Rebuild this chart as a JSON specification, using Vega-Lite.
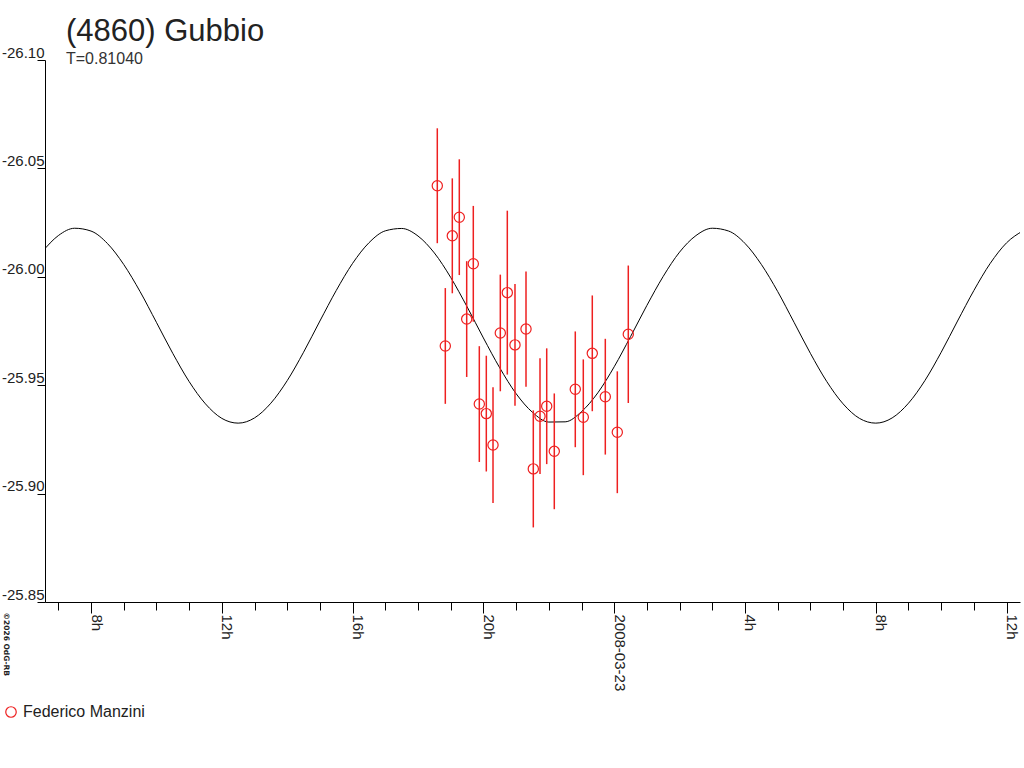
{
  "$schema": "https://vega.github.io/schema/vega-lite/v6.json",
  "width": 975,
  "height": 542,
  "autosize": "none",
  "padding": {"left": 45, "top": 60, "right": 4, "bottom": 166},
  "title": {
    "text": "(4860) Gubbio",
    "subtitle": "T=0.81040",
    "anchor": "start",
    "frame": "group",
    "dx": 21,
    "offset": -23,
    "font": "Liberation Sans",
    "fontSize": 31,
    "fontWeight": "normal",
    "color": "#222",
    "subtitleFont": "Liberation Sans",
    "subtitleFontSize": 16,
    "subtitleColor": "#333",
    "subtitlePadding": 3
  },
  "datasets": {
    "model": [
      {"hour": 6.5, "mag": -26.0114},
      {"hour": 7.0, "mag": -26.0190},
      {"hour": 7.5, "mag": -26.0224},
      {"hour": 8.0, "mag": -26.0211},
      {"hour": 8.5, "mag": -26.0154},
      {"hour": 9.0, "mag": -26.0057},
      {"hour": 9.5, "mag": -25.9932},
      {"hour": 10.0, "mag": -25.9790},
      {"hour": 10.5, "mag": -25.9647},
      {"hour": 11.0, "mag": -25.9517},
      {"hour": 11.5, "mag": -25.9414},
      {"hour": 12.0, "mag": -25.9347},
      {"hour": 12.5, "mag": -25.9325},
      {"hour": 13.0, "mag": -25.9349},
      {"hour": 13.5, "mag": -25.9417},
      {"hour": 14.0, "mag": -25.9521},
      {"hour": 14.5, "mag": -25.9652},
      {"hour": 15.0, "mag": -25.9796},
      {"hour": 15.5, "mag": -25.9937},
      {"hour": 16.0, "mag": -26.0062},
      {"hour": 16.5, "mag": -26.0157},
      {"hour": 17.0, "mag": -26.0212},
      {"hour": 17.5, "mag": -26.0223},
      {"hour": 18.0, "mag": -26.0188},
      {"hour": 18.5, "mag": -26.0110},
      {"hour": 19.0, "mag": -25.9997},
      {"hour": 19.5, "mag": -25.9862},
      {"hour": 20.0, "mag": -25.9718},
      {"hour": 20.5, "mag": -25.9580},
      {"hour": 21.0, "mag": -25.9461},
      {"hour": 21.5, "mag": -25.9375},
      {"hour": 22.0, "mag": -25.9330},
      {"hour": 22.5, "mag": -25.9331},
      {"hour": 23.0, "mag": -25.9378},
      {"hour": 23.5, "mag": -25.9465},
      {"hour": 24.0, "mag": -25.9585},
      {"hour": 24.5, "mag": -25.9724},
      {"hour": 25.0, "mag": -25.9868},
      {"hour": 25.5, "mag": -26.0002},
      {"hour": 26.0, "mag": -26.0114},
      {"hour": 26.5, "mag": -26.0190},
      {"hour": 27.0, "mag": -26.0224},
      {"hour": 27.5, "mag": -26.0211},
      {"hour": 28.0, "mag": -26.0154},
      {"hour": 28.5, "mag": -26.0057},
      {"hour": 29.0, "mag": -25.9932},
      {"hour": 29.5, "mag": -25.9790},
      {"hour": 30.0, "mag": -25.9647},
      {"hour": 30.5, "mag": -25.9517},
      {"hour": 31.0, "mag": -25.9414},
      {"hour": 31.5, "mag": -25.9347},
      {"hour": 32.0, "mag": -25.9325},
      {"hour": 32.5, "mag": -25.9349},
      {"hour": 33.0, "mag": -25.9417},
      {"hour": 33.5, "mag": -25.9521},
      {"hour": 34.0, "mag": -25.9652},
      {"hour": 34.5, "mag": -25.9796},
      {"hour": 35.0, "mag": -25.9937},
      {"hour": 35.5, "mag": -26.0062},
      {"hour": 36.0, "mag": -26.0157},
      {"hour": 36.5, "mag": -26.0212}
    ],
    "obs": [
      {"hour": 18.590, "mag": -26.0420, "magLo": -26.0685, "magHi": -26.0155, "observer": "Federico Manzini"},
      {"hour": 18.835, "mag": -25.9681, "magLo": -25.9948, "magHi": -25.9414, "observer": "Federico Manzini"},
      {"hour": 19.049, "mag": -26.0189, "magLo": -26.0454, "magHi": -25.9924, "observer": "Federico Manzini"},
      {"hour": 19.263, "mag": -26.0275, "magLo": -26.0542, "magHi": -26.0008, "observer": "Federico Manzini"},
      {"hour": 19.489, "mag": -25.9805, "magLo": -26.0072, "magHi": -25.9538, "observer": "Federico Manzini"},
      {"hour": 19.691, "mag": -26.0060, "magLo": -26.0327, "magHi": -25.9793, "observer": "Federico Manzini"},
      {"hour": 19.875, "mag": -25.9413, "magLo": -25.9680, "magHi": -25.9146, "observer": "Federico Manzini"},
      {"hour": 20.089, "mag": -25.9369, "magLo": -25.9636, "magHi": -25.9102, "observer": "Federico Manzini"},
      {"hour": 20.294, "mag": -25.9224, "magLo": -25.9491, "magHi": -25.8957, "observer": "Federico Manzini"},
      {"hour": 20.517, "mag": -25.9741, "magLo": -26.0010, "magHi": -25.9472, "observer": "Federico Manzini"},
      {"hour": 20.731, "mag": -25.9927, "magLo": -26.0305, "magHi": -25.9549, "observer": "Federico Manzini"},
      {"hour": 20.966, "mag": -25.9686, "magLo": -25.9967, "magHi": -25.9405, "observer": "Federico Manzini"},
      {"hour": 21.303, "mag": -25.9759, "magLo": -26.0025, "magHi": -25.9493, "observer": "Federico Manzini"},
      {"hour": 21.526, "mag": -25.9114, "magLo": -25.9384, "magHi": -25.8844, "observer": "Federico Manzini"},
      {"hour": 21.731, "mag": -25.9357, "magLo": -25.9624, "magHi": -25.9090, "observer": "Federico Manzini"},
      {"hour": 21.936, "mag": -25.9403, "magLo": -25.9670, "magHi": -25.9136, "observer": "Federico Manzini"},
      {"hour": 22.168, "mag": -25.9195, "magLo": -25.9462, "magHi": -25.8928, "observer": "Federico Manzini"},
      {"hour": 22.810, "mag": -25.9481, "magLo": -25.9748, "magHi": -25.9214, "observer": "Federico Manzini"},
      {"hour": 23.055, "mag": -25.9352, "magLo": -25.9619, "magHi": -25.9085, "observer": "Federico Manzini"},
      {"hour": 23.330, "mag": -25.9647, "magLo": -25.9914, "magHi": -25.9380, "observer": "Federico Manzini"},
      {"hour": 23.728, "mag": -25.9447, "magLo": -25.9714, "magHi": -25.9180, "observer": "Federico Manzini"},
      {"hour": 24.095, "mag": -25.9283, "magLo": -25.9564, "magHi": -25.9002, "observer": "Federico Manzini"},
      {"hour": 24.431, "mag": -25.9735, "magLo": -26.0052, "magHi": -25.9418, "observer": "Federico Manzini"}
    ]
  },
  "layer": [
    {
      "data": {"name": "model"},
      "mark": {"type": "line", "color": "#000", "strokeWidth": 1, "clip": true, "interpolate": "monotone"},
      "encoding": {
        "x": {
          "field": "hour",
          "type": "quantitative",
          "scale": {"domain": [6.593, 36.41], "nice": false, "zero": false},
          "axis": {
            "title": null,
            "values": [7, 8, 9, 10, 11, 12, 13, 14, 15, 16, 17, 18, 19, 20, 21, 22, 23, 24, 25, 26, 27, 28, 29, 30, 31, 32, 33, 34, 35, 36],
            "tickCount": 200,
            "labelExpr": "datum.value % 4 == 0 ? (datum.value == 24 ? '2008-03-23' : (datum.value % 24) + 'h') : ''",
            "labelAngle": 90,
            "labelAlign": "left",
            "labelBaseline": "alphabetic",
            "labelOverlap": false,
            "labelFlush": false,
            "labelPadding": 1,
            "tickSize": {"condition": {"test": "datum.value % 4 == 0", "value": 11}, "value": 8}
          }
        },
        "y": {
          "field": "mag",
          "type": "quantitative",
          "scale": {"domain": [-26.10, -25.85], "reverse": true, "zero": false, "nice": false},
          "axis": {
            "values": [-26.10, -26.05, -26.00, -25.95, -25.90, -25.85],
            "tickCount": 50,
            "labelExpr": "replace(format(datum.value, '.2f'), '\u2212', '-')",
            "tickSize": 8,
            "labelAlign": "right",
            "labelBaseline": "bottom",
            "labelPadding": -7,
            "title": "©2026 OdG-RB",
            "titleAngle": 90,
            "titleX": -44,
            "titleY": 552,
            "titleAlign": "left",
            "titleBaseline": "bottom",
            "titleFont": "DejaVu Sans",
            "titleFontSize": 7.5,
            "titleFontWeight": "bold",
            "titleColor": "#222"
          }
        }
      }
    },
    {
      "data": {"name": "obs"},
      "mark": {"type": "rule", "color": "#ee2020", "strokeWidth": 1.5},
      "encoding": {
        "x": {"field": "hour", "type": "quantitative"},
        "y": {"field": "magLo", "type": "quantitative"},
        "y2": {"field": "magHi"}
      }
    },
    {
      "data": {"name": "obs"},
      "mark": {"type": "point", "filled": false, "size": 105, "strokeWidth": 1.2, "opacity": 1},
      "encoding": {
        "x": {"field": "hour", "type": "quantitative"},
        "y": {"field": "mag", "type": "quantitative"},
        "color": {
          "field": "observer",
          "type": "nominal",
          "scale": {"range": ["#ee2020"]},
          "legend": {
            "orient": "none",
            "legendX": -42,
            "legendY": 644,
            "title": null,
            "labelFont": "Liberation Sans",
            "labelFontSize": 16,
            "labelColor": "#222",
            "symbolSize": 110,
            "symbolStrokeWidth": 1.2,
            "symbolType": "circle"
          }
        }
      }
    }
  ],
  "config": {
    "view": {"stroke": null},
    "axis": {
      "grid": false,
      "domainColor": "#000",
      "domainWidth": 1,
      "tickColor": "#000",
      "tickWidth": 1,
      "labelFont": "Liberation Sans",
      "labelFontSize": 15,
      "labelColor": "#222"
    }
  }
}
